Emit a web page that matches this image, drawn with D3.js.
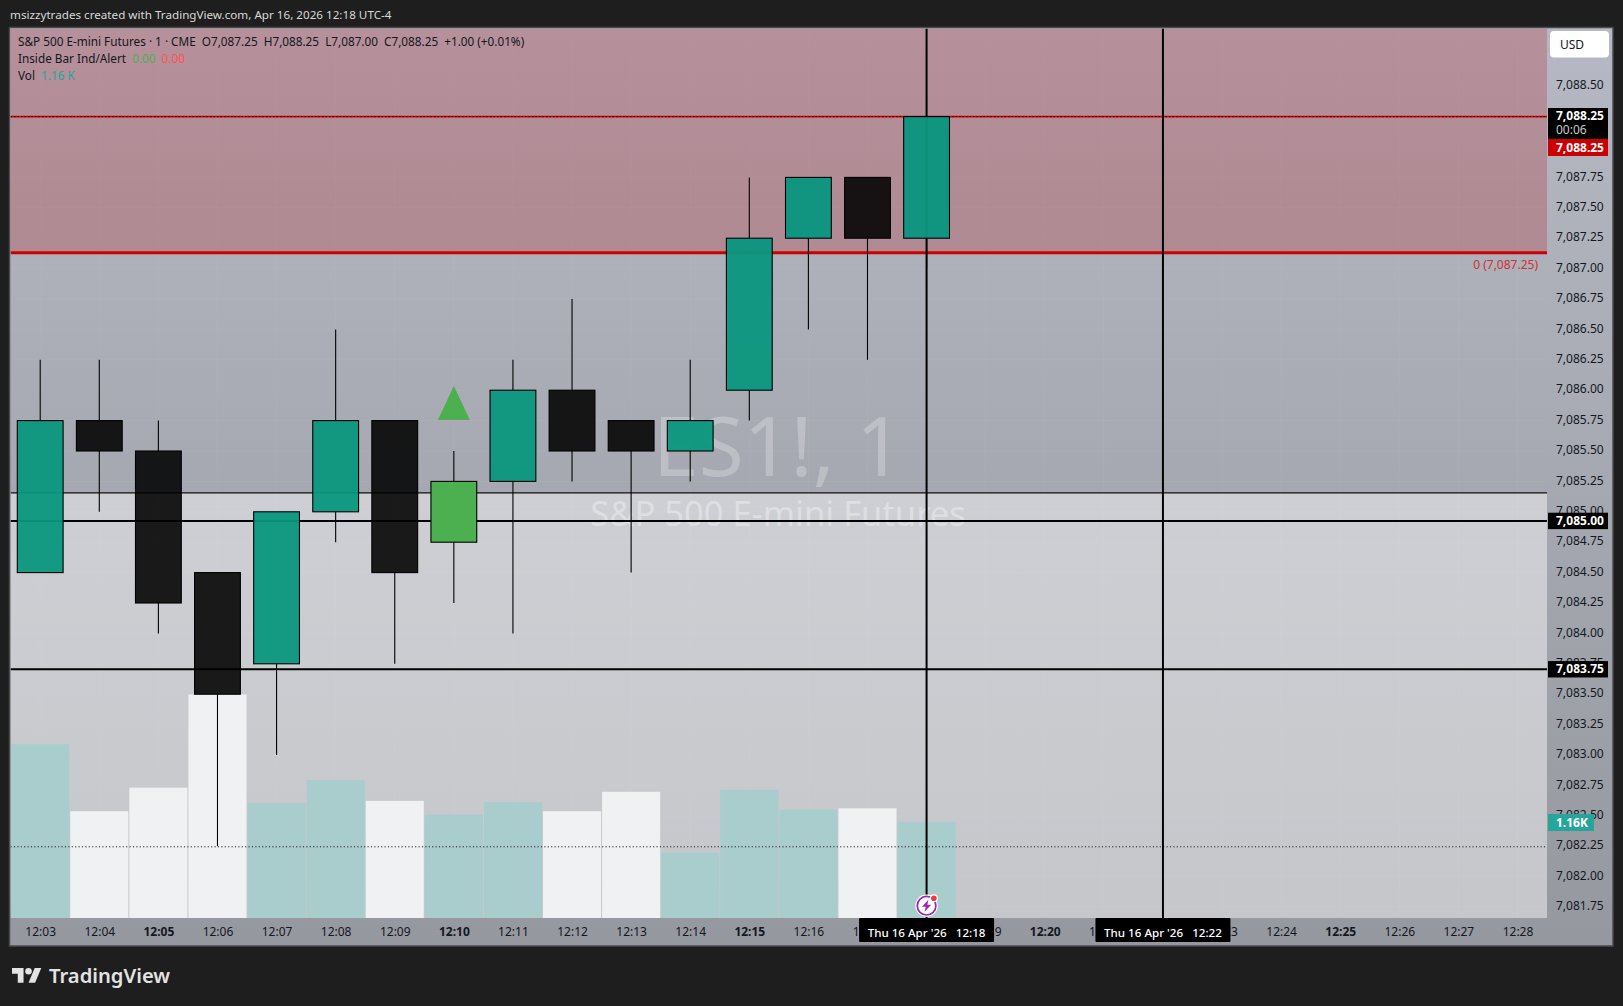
<!DOCTYPE html>
<html><head><meta charset="utf-8">
<script src="https://cdn.jsdelivr.net/npm/d3@7/dist/d3.min.js"></script>
<style>
html,body{margin:0;padding:0;background:#1e1e1e;overflow:hidden}
svg{display:block}
text{font-family:"Noto Sans",sans-serif}
.axis path,.axis line{display:none}
</style></head><body><svg id="c" width="1623" height="1006"></svg>
<script>
const timeLabels=["12:03","12:04","12:05","12:06","12:07","12:08","12:09","12:10","12:11","12:12","12:13","12:14","12:15","12:16","12:17","12:18","12:19","12:20","12:21","12:22","12:23","12:24","12:25","12:26","12:27","12:28"];
const opens =[7084.5,7085.75,7085.5,7084.5,7083.75,7085,7085.75,7084.75,7085.25,7086,7085.75,7085.5,7086,7087.25,7087.75,7087.25];
const highs =[7086.25,7086.25,7085.75,7084.5,7085,7086.5,7085.75,7085.5,7086.25,7086.75,7085.75,7086.25,7087.75,7087.75,7087.75,7088.25];
const lows  =[7084.5,7085,7084,7082.25,7083,7084.75,7083.75,7084.25,7084,7085.25,7084.5,7085.25,7085.75,7086.5,7086.25,7087];
const closes=[7085.75,7085.5,7084.25,7083.5,7085,7085.75,7084.5,7085.25,7086,7085.5,7085.5,7085.75,7087.25,7087.75,7087.25,7088.25];
const volumes=[2100,1290,1575,2700,1390,1665,1415,1250,1400,1290,1525,790,1550,1310,1325,1160];
const priceTicks=[7081.75,7082,7082.25,7082.5,7082.75,7083,7083.25,7083.5,7083.75,7084,7084.25,7084.5,7084.75,7085,7085.25,7085.5,7085.75,7086,7086.25,7086.5,7086.75,7087,7087.25,7087.5,7087.75,7088,7088.25,7088.5];
const insideBarIndex=7;
const redZoneBottom=7087.13, lightZoneTop=7085.155;
const blackLines=[7084.925,7083.705];
const lastPrice=7088.25, dottedLow=7082.245;
const crossTimes=[15,19];
const crossLabels=["Thu 16 Apr '26   12:18","Thu 16 Apr '26   12:22"];
const priceBoxes=[{p:7084.925,t:"7,085.00"},{p:7083.705,t:"7,083.75"}];

const L=10.5,R=1547,T=28.5,B=918,AB=945,FR=1612;
const svg=d3.select("#c");
const y=d3.scaleLinear().domain([7087,7081.75]).range([268.6,907]);
const x=d3.scaleLinear().domain([0,25]).range([40.2,1517.5]);
const v=d3.scaleLinear().domain([0,1160]).range([B,822]);
const fmt=d3.format(",.2f");
const step=x(1)-x(0), bw=45.8;

const defs=svg.append("defs");
const g=defs.append("linearGradient").attr("id","bg").attr("x1",0).attr("x2",0).attr("y1",0).attr("y2",1);
g.append("stop").attr("offset",0).attr("stop-color","#b6b9c3");
g.append("stop").attr("offset",1).attr("stop-color","#96989f");
defs.append("clipPath").attr("id","pane").append("rect").attr("x",L).attr("y",T).attr("width",R-L).attr("height",B-T);

svg.append("rect").attr("x",L-1).attr("y",T-1).attr("width",FR-L+2).attr("height",AB-T+2).attr("fill","url(#bg)").attr("stroke","#4a4a4c").attr("stroke-width",1.5);

const pane=svg.append("g").attr("clip-path","url(#pane)");
// grid
pane.selectAll(".gv").data(timeLabels).join("line").attr("x1",(d,i)=>x(i)).attr("x2",(d,i)=>x(i)).attr("y1",T).attr("y2",B).attr("stroke","rgba(255,255,255,.045)");
pane.selectAll(".gh").data(priceTicks).join("line").attr("x1",L).attr("x2",R).attr("y1",d=>y(d)).attr("y2",d=>y(d)).attr("stroke","rgba(255,255,255,.045)");
// zones
pane.append("rect").attr("x",L).attr("width",R-L).attr("y",T).attr("height",y(redZoneBottom)-T).attr("fill","#b40008").attr("fill-opacity",.22);
pane.append("rect").attr("x",L).attr("width",R-L).attr("y",y(lightZoneTop)).attr("height",B-y(lightZoneTop)).attr("fill","#fff").attr("fill-opacity",.45);
// watermark
pane.append("text").attr("x",778).attr("y",476).attr("text-anchor","middle").attr("font-size",82).attr("fill","rgba(255,255,255,.25)").text("ES1!, 1");
pane.append("text").attr("x",778).attr("y",526).attr("text-anchor","middle").attr("font-size",34.5).attr("fill","rgba(255,255,255,.35)").text("S&P 500 E-mini Futures");
// volume
pane.selectAll(".vol").data(volumes).join("rect").attr("x",(d,i)=>x(i)-step/2+.5).attr("width",step-1).attr("y",d=>v(d)).attr("height",d=>B-v(d))
 .attr("fill",(d,i)=>closes[i]>=opens[i]?"#a8cdcc":"#f0f1f3");
// lines
pane.append("line").attr("x1",L).attr("x2",R).attr("y1",y(lightZoneTop)).attr("y2",y(lightZoneTop)).attr("stroke","#111").attr("stroke-width",1.2);
pane.selectAll(".bl").data(blackLines).join("line").attr("x1",L).attr("x2",R).attr("y1",d=>y(d)).attr("y2",d=>y(d)).attr("stroke","#000").attr("stroke-width",2);
pane.append("line").attr("x1",L).attr("x2",R).attr("y1",y(redZoneBottom)).attr("y2",y(redZoneBottom)).attr("stroke","#cc0000").attr("stroke-width",3);
pane.append("line").attr("x1",L).attr("x2",R).attr("y1",y(lastPrice)).attr("y2",y(lastPrice)).attr("stroke","#d40000").attr("stroke-width",1.6);
pane.append("line").attr("x1",L).attr("x2",R).attr("y1",y(lastPrice)).attr("y2",y(lastPrice)).attr("stroke","#200000").attr("stroke-width",1).attr("stroke-dasharray","1.5 2");
pane.append("line").attr("x1",L).attr("x2",R).attr("y1",y(dottedLow)).attr("y2",y(dottedLow)).attr("stroke","#222").attr("stroke-dasharray","1.2 2.2");
// crosshair verticals
crossTimes.forEach(c=>pane.append("line").attr("x1",x(c)).attr("x2",x(c)).attr("y1",T).attr("y2",B).attr("stroke","#000").attr("stroke-width",2));
// candles: wick segments outside the body, then the body
const bodyTop=i=>Math.max(opens[i],closes[i]), bodyBot=i=>Math.min(opens[i],closes[i]);
pane.selectAll(".wh").data(opens).join("line").attr("x1",(d,i)=>x(i)).attr("x2",(d,i)=>x(i)).attr("y1",(d,i)=>y(highs[i])).attr("y2",(d,i)=>y(bodyTop(i))).attr("stroke","#000").attr("stroke-width",1.1);
pane.selectAll(".wl").data(opens).join("line").attr("x1",(d,i)=>x(i)).attr("x2",(d,i)=>x(i)).attr("y1",(d,i)=>y(bodyBot(i))).attr("y2",(d,i)=>y(lows[i])).attr("stroke","#000").attr("stroke-width",1.1);
const col=i=>i===insideBarIndex?"#4caf50":(closes[i]>=opens[i]?"rgba(10,150,126,.95)":"rgba(0,0,0,.88)");
pane.selectAll(".body").data(opens).join("rect").attr("x",(d,i)=>x(i)-bw/2).attr("width",bw)
 .attr("y",(d,i)=>y(bodyTop(i))).attr("height",(d,i)=>y(bodyBot(i))-y(bodyTop(i)))
 .attr("fill",(d,i)=>col(i)).attr("stroke","#000").attr("stroke-width",1.1);
// inside-bar marker
const tx=x(insideBarIndex), ty=y(highs[insideBarIndex]);
pane.append("path").attr("d",d3.line()([[tx,ty-65],[tx+16,ty-31],[tx-16,ty-31]])+"Z").attr("fill","#4caf50");
// red zone label
svg.append("text").attr("x",1538).attr("y",268.5).attr("text-anchor","end").attr("font-size",12).attr("fill","#d32f2f").text("0 (7,087.25)");

// right axis
const ay=svg.append("g").attr("class","axis").attr("transform",`translate(1556,-0.7)`).call(d3.axisRight(y).tickValues(priceTicks).tickFormat(fmt).tickSize(0).tickPadding(0));
ay.selectAll("text").attr("font-size",12).attr("fill","#131722").attr("dy","0.28em");
// bottom axis
const ax=svg.append("g").attr("class","axis").attr("transform",`translate(0,${B})`).call(d3.axisBottom(x).tickValues(d3.range(timeLabels.length)).tickFormat(i=>timeLabels[i]).tickSize(0).tickPadding(0));
ax.selectAll("text").attr("font-size",12).attr("fill","#131722").attr("y",18).attr("dy",0).attr("font-weight",i=>/[05]$/.test(timeLabels[i])?700:400);

// alert icon
const ic=svg.append("g").attr("transform",`translate(${x(crossTimes[0])},905.7)`);
ic.append("circle").attr("r",11.2).attr("fill","#fff");
ic.append("circle").attr("r",9.3).attr("fill","#fff").attr("stroke","#9c27b0").attr("stroke-width",1.7);
ic.append("path").attr("d","M1.8 -6 L-4.6 1 L-0.8 1 L-2 6 L4.6 -1 L0.8 -1 Z").attr("fill","#9c27b0");
ic.append("circle").attr("cx",7.3).attr("cy",-7.4).attr("r",4).attr("fill","#fff");
ic.append("circle").attr("cx",7.3).attr("cy",-7.4).attr("r",2.8).attr("fill","#f23645");

// axis labels
const box=(x0,y0,w,h,fill,t,tc,ty2)=>{svg.append("rect").attr("x",x0).attr("y",y0).attr("width",w).attr("height",h).attr("fill",fill);
  if(t)svg.append("text").attr("x",1556).attr("y",ty2).attr("font-size",12).attr("font-weight",700).attr("fill",tc).text(t);};
box(1548,108,60,31,"#000",fmt(lastPrice),"#fff",120);
svg.append("text").attr("x",1556).attr("y",134).attr("font-size",12).attr("fill","#c9c9c9").text("00:06");
box(1548,139,60,17,"#cc0000",fmt(lastPrice),"#fff",151.5);
priceBoxes.forEach(b=>{const c=y(b.p);box(1548,c-8.2,60,16.4,"#000",b.t,"#fff",c+4.2);});
box(1548,814,46,17,"#26a69a","1.16K","#fff",827);
svg.append("rect").attr("x",1550).attr("y",31).attr("width",59).attr("height",26.5).attr("rx",4).attr("fill","#fff");
svg.append("text").attr("x",1560).attr("y",49).attr("font-size",12).attr("fill","#131722").text("USD");

// time labels
crossTimes.forEach((c,i)=>{const cx=x(c);svg.append("rect").attr("x",cx-67.5).attr("y",B).attr("width",135).attr("height",24).attr("rx",1).attr("fill","#000");
 svg.append("text").attr("x",cx).attr("y",B+18.5).attr("text-anchor","middle").attr("font-size",11.6).attr("font-weight",500).attr("fill","#fff").style("white-space","pre").text(crossLabels[i]);});

// legend + title
svg.append("text").attr("x",10).attr("y",19).attr("font-size",11.66).attr("fill","#d8d8d8").text("msizzytrades created with TradingView.com, Apr 16, 2026 12:18 UTC-4");
const leg=svg.append("g").attr("font-size",11.75).attr("fill","#131722");
leg.append("text").attr("x",18).attr("y",46).style("white-space","pre").text("S&P 500 E-mini Futures · 1 · CME  O7,087.25  H7,088.25  L7,087.00  C7,088.25  +1.00 (+0.01%)");
const l2=leg.append("text").attr("x",18).attr("y",63).style("white-space","pre");
l2.append("tspan").text("Inside Bar Ind/Alert  ");l2.append("tspan").attr("fill","#4caf50").text("0.00  ");l2.append("tspan").attr("fill","#ff5252").text("0.00");
const l3=leg.append("text").attr("x",18).attr("y",80).style("white-space","pre");
l3.append("tspan").text("Vol  ");l3.append("tspan").attr("fill","#26a69a").text("1.16 K");

// logo
const lg=svg.append("g").attr("transform","translate(12,964.7) scale(.825)").attr("fill","#e3e3e3");
lg.append("path").attr("d","M14 22H7V11H0V4h14v18zM28 22h-8l7.5-18h8L28 22z");lg.append("circle").attr("cx",20).attr("cy",8).attr("r",4);
svg.append("text").attr("x",49).attr("y",983).attr("font-size",20.2).attr("font-weight",600).attr("fill","#e3e3e3").attr("font-family","Inter").text("TradingView");
</script></body></html>
